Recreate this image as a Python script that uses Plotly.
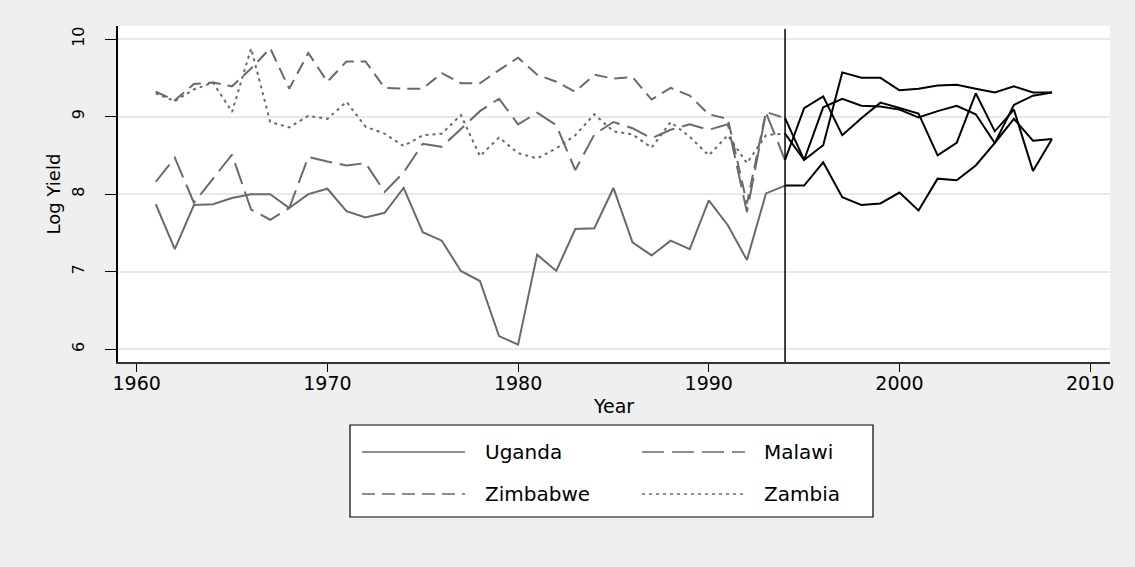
import plotly.graph_objects as go

# Annual log maize yield by country, 1961-2008
years = list(range(1961, 2009))

uganda = [7.87, 7.29, 7.86, 7.87, 7.95, 8.00, 8.00, 7.82, 8.00, 8.07,
          7.78, 7.70, 7.76, 8.08, 7.51, 7.40, 7.01, 6.88, 6.17, 6.06,
          7.22, 7.01, 7.55, 7.56, 8.08, 7.38, 7.21, 7.40, 7.29, 7.92,
          7.60, 7.15, 8.01, 8.11, 8.11, 8.41, 7.96, 7.86, 7.88, 8.02,
          7.79, 8.20, 8.18, 8.37, 8.66, 9.15, 9.27, 9.31]

malawi = [8.16, 8.47, 7.89, 8.20, 8.51, 7.80, 7.67, 7.82, 8.48, 8.42,
          8.37, 8.40, 8.03, 8.28, 8.65, 8.61, 8.84, 9.07, 9.23, 8.90,
          9.05, 8.89, 8.31, 8.77, 8.93, 8.85, 8.72, 8.83, 8.90, 8.83,
          8.90, 7.77, 9.05, 8.44, 9.11, 9.26, 8.76, 8.98, 9.18, 9.11,
          9.04, 8.50, 8.66, 9.30, 8.81, 9.09, 8.30, 8.71]

zimbabwe = [9.32, 9.21, 9.42, 9.44, 9.39, 9.62, 9.88, 9.36, 9.82, 9.45,
            9.71, 9.71, 9.37, 9.36, 9.36, 9.56, 9.43, 9.43, 9.60, 9.76,
            9.54, 9.45, 9.32, 9.54, 9.49, 9.51, 9.22, 9.37, 9.27, 9.03,
            8.97, 7.88, 9.06, 8.98, 8.44, 8.63, 9.57, 9.50, 9.50, 9.34,
            9.36, 9.40, 9.41, 9.36, 9.31, 9.39, 9.31, 9.31]

zambia = [9.30, 9.20, 9.35, 9.44, 9.06, 9.88, 8.93, 8.86, 9.01, 8.97,
          9.19, 8.87, 8.78, 8.62, 8.76, 8.78, 9.02, 8.49, 8.73, 8.53,
          8.46, 8.59, 8.76, 9.03, 8.81, 8.77, 8.60, 8.93, 8.74, 8.50,
          8.76, 8.40, 8.76, 8.78, 8.44, 9.12, 9.23, 9.14, 9.13, 9.09,
          8.99, 9.07, 9.14, 9.03, 8.66, 8.97, 8.69, 8.71]

countries = ["Uganda", "Malawi", "Zimbabwe", "Zambia"]
series = [uganda, malawi, zimbabwe, zambia]
dashes = ["solid", "22px,8px", "13px,7px", "3px,4px"]

break_year = 1994
x_ticks = [1960, 1970, 1980, 1990, 2000, 2010]
y_ticks = [6, 7, 8, 9, 10]

GRAY = "#6a6a6a"
FONT = "DejaVu Sans"

fig = go.Figure()

for name, vals, dash in zip(countries, series, dashes):
    pre_x = [y for y in years if y <= break_year]
    pre_y = [v for y, v in zip(years, vals) if y <= break_year]
    post_x = [y for y in years if y >= break_year]
    post_y = [v for y, v in zip(years, vals) if y >= break_year]
    fig.add_trace(go.Scatter(x=pre_x, y=pre_y, mode="lines", name=name,
                             line=dict(color=GRAY, width=2, dash=dash),
                             showlegend=False, hoverinfo="skip"))
    fig.add_trace(go.Scatter(x=post_x, y=post_y, mode="lines", name=name,
                             line=dict(color="black", width=2),
                             showlegend=False, hoverinfo="skip"))

# plot-area geometry in pixels
W, H = 1135, 567
L, R, T, B = 118, 25, 26, 205
pw, ph = W - L - R, H - T - B


def px_x(px):
    return (px - L) / pw


def px_y(py):
    return (H - B - py) / ph


shapes = [
    # vertical reference line at the break year
    dict(type="line", xref="x", yref="paper", x0=break_year, x1=break_year,
         y0=0, y1=px_y(29), line=dict(color="black", width=1.5)),
    # legend frame
    dict(type="rect", xref="paper", yref="paper",
         x0=px_x(350), x1=px_x(873), y0=px_y(517), y1=px_y(425),
         line=dict(color="black", width=1.2), fillcolor="white", layer="below"),
]

annotations = []
legend_rows = [452, 494]
legend_cols = [(362, 465, 483), (642, 745, 762)]
for i, (name, dash) in enumerate(zip(countries, dashes)):
    row, col = divmod(i, 2)
    x0, x1, tx = legend_cols[col]
    yy = px_y(legend_rows[row])
    shapes.append(dict(type="line", xref="paper", yref="paper",
                       x0=px_x(x0), x1=px_x(x1), y0=yy, y1=yy,
                       line=dict(color=GRAY, width=1.5, dash=dash)))
    annotations.append(dict(text=name, xref="paper", yref="paper",
                            x=px_x(tx), y=yy, xanchor="left", yanchor="middle",
                            showarrow=False,
                            font=dict(family=FONT, size=20, color="black")))

fig.update_layout(
    width=W, height=H,
    margin=dict(l=L, r=R, t=T, b=B, pad=0),
    paper_bgcolor="#efefef",
    plot_bgcolor="white",
    font=dict(family=FONT, color="black"),
    shapes=shapes,
    annotations=annotations,
    showlegend=False,
)

fig.update_xaxes(
    range=[1959.02, 2011.04],
    tickvals=x_ticks, ticktext=[str(t) for t in x_ticks],
    ticks="outside", ticklen=8, tickwidth=1.2, tickcolor="black",
    ticklabelstandoff=-5,
    showline=True, linecolor="#333333", linewidth=1.5,
    showgrid=False, zeroline=False,
    tickfont=dict(family=FONT, size=19, color="black"),
    title=dict(text="Year", font=dict(family=FONT, size=19, color="black"),
               standoff=7),
)

fig.update_yaxes(
    range=[5.836, 10.168],
    tickvals=y_ticks, ticktext=[str(t) for t in y_ticks],
    ticks="outside", ticklen=11, tickwidth=1.2, tickcolor="black",
    tickangle=-90, ticklabelstandoff=15,
    showline=True, linecolor="black", linewidth=1.5,
    showgrid=True, gridcolor="#e8e8e8", gridwidth=1.5,
    zeroline=False,
    tickfont=dict(family=FONT, size=16, color="black"),
    title=dict(text="Log Yield", font=dict(family=FONT, size=18, color="black"),
               standoff=4),
)

fig.write_html("out.html")
